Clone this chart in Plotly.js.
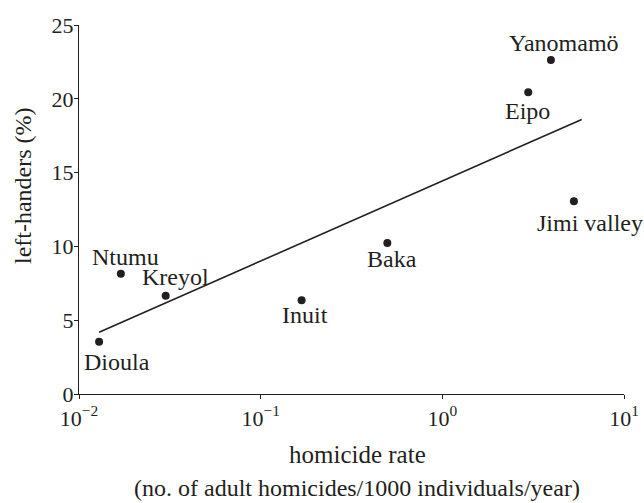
<!DOCTYPE html>
<html>
<head>
<meta charset="utf-8">
<script src="https://cdn.plot.ly/plotly-3.0.1.min.js"></script>
<style>
html,body{margin:0;padding:0;background:#fff;}
#chart{width:644px;height:503px;}
</style>
</head>
<body>
<div id="chart"></div>
<script>
// Data
var groups = ['Dioula', 'Ntumu', 'Kreyol', 'Inuit', 'Baka', 'Eipo', 'Yanomamö', 'Jimi valley'];
var homicideRate = [0.0129, 0.0170, 0.0300, 0.168, 0.498, 2.97, 3.96, 5.30];
var leftHanders = [3.54, 8.15, 6.66, 6.35, 10.23, 20.44, 22.63, 13.06];
// fitted line end points
var fitX = [0.0129, 5.85];
var fitY = [4.18, 18.6];
// axis ticks
var xTickVals = [0.01, 0.1, 1, 10];
var xTickText = ['10<sup>−2</sup>', '10<sup>−1</sup>', '10<sup>0</sup>', '10<sup>1</sup>'];
var yTickVals = [0, 5, 10, 15, 20, 25];
// label offsets (px) relative to each point
var labelDX = [18, 5, 10, 3, 5, -1, 13, 16];
var labelDY = [-20, 17, 19, -15, -16, -19, 17, -22];

var FONT = 'Liberation Serif';
var INK = '#231f20';

var traces = [
  {
    x: fitX, y: fitY, type: 'scatter', mode: 'lines',
    line: {color: INK, width: 1.6}, hoverinfo: 'skip', showlegend: false
  },
  {
    x: homicideRate, y: leftHanders, text: groups, type: 'scatter', mode: 'markers',
    marker: {color: INK, size: 8}, showlegend: false
  }
];

var L = 79, R = 20, T = 25, B = 109;
var pw = 644 - L - R, ph = 503 - T - B;

var annotations = groups.map(function (g, i) {
  return {
    x: Math.log10(homicideRate[i]), y: leftHanders[i], xref: 'x', yref: 'y',
    text: g, showarrow: false, xanchor: 'center', yanchor: 'middle',
    xshift: labelDX[i], yshift: labelDY[i],
    font: {family: FONT, size: 24, color: INK}
  };
});
annotations.push({
  x: (23 - L) / pw, y: (503 - B - 186) / ph, xref: 'paper', yref: 'paper', textangle: -90,
  text: 'left-handers (%)', showarrow: false, xanchor: 'center', yanchor: 'middle',
  font: {family: FONT, size: 24, color: INK}
});
annotations.push({
  x: (357 - L) / pw, y: (503 - B - 488) / ph, xref: 'paper', yref: 'paper',
  text: '(no. of adult homicides/1000 individuals/year)',
  showarrow: false, xanchor: 'center', yanchor: 'middle',
  font: {family: FONT, size: 24, color: INK}
});
annotations.push({
  x: (357 - L) / pw, y: (503 - B - 455) / ph, xref: 'paper', yref: 'paper',
  text: 'homicide rate',
  showarrow: false, xanchor: 'center', yanchor: 'middle',
  font: {family: FONT, size: 25, color: INK}
});

var layout = {
  width: 644, height: 503,
  margin: {l: L, r: R, t: T, b: B, pad: 0},
  paper_bgcolor: '#fff', plot_bgcolor: '#fff',
  font: {family: FONT, size: 22, color: INK},
  showlegend: false,
  xaxis: {
    type: 'log', range: [-2, 1],
    tickmode: 'array', tickvals: xTickVals, ticktext: xTickText,
    ticks: 'outside', ticklen: 4, tickwidth: 1, tickcolor: INK,
    showline: true, linecolor: INK, linewidth: 1.2, mirror: false,
    showgrid: false, zeroline: false,
    tickfont: {family: FONT, size: 22, color: INK}
  },
  yaxis: {
    range: [0, 25], tickmode: 'array', tickvals: yTickVals,
    ticks: 'outside', ticklen: 4, tickwidth: 1, tickcolor: INK,
    ticklabelstandoff: -4,
    showline: true, linecolor: INK, linewidth: 1.2, mirror: false,
    showgrid: false, zeroline: false,
    tickfont: {family: FONT, size: 22, color: INK}
  },
  annotations: annotations
};

Plotly.newPlot('chart', traces, layout, {staticPlot: true, displayModeBar: false});
</script>
</body>
</html>
